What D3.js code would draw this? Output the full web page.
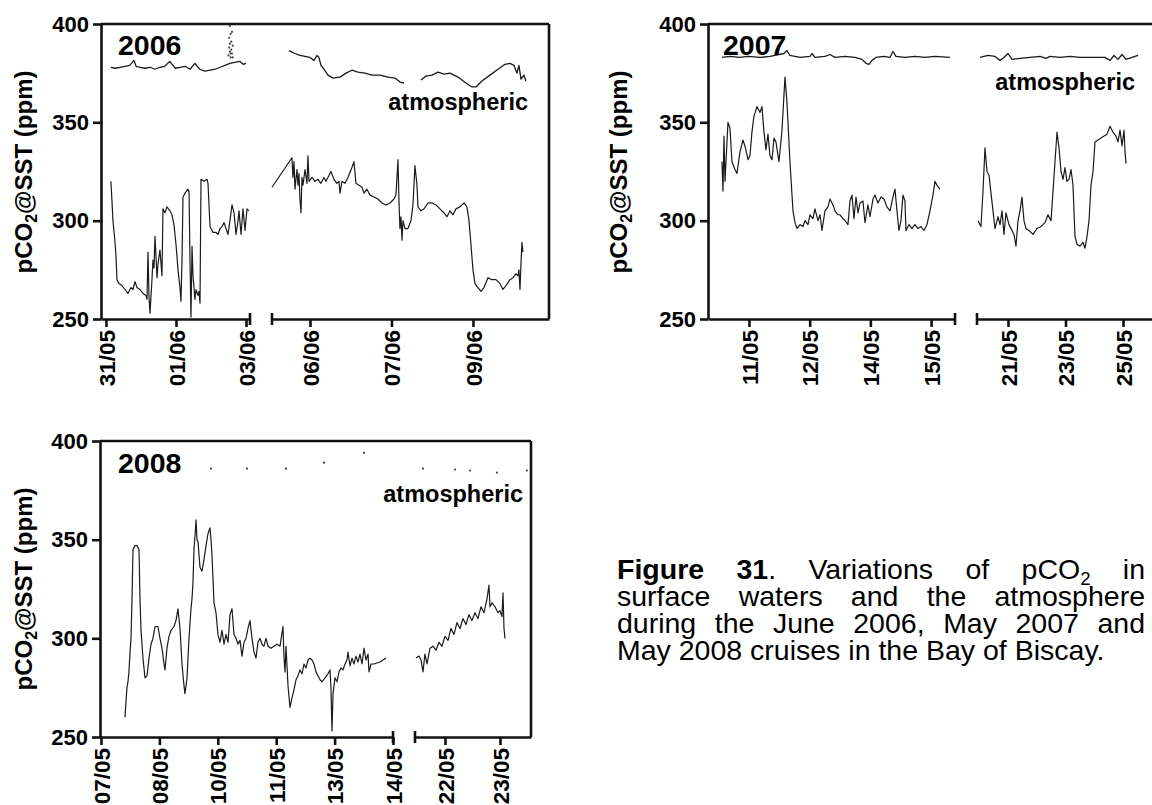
<!DOCTYPE html>
<html>
<head>
<meta charset="utf-8">
<script src="https://cdn.jsdelivr.net/npm/d3@7"></script>
<style>
  body { margin: 0; background: #fff; }
  svg { display: block; font-family: "Liberation Sans", Arial, Helvetica, sans-serif; }
</style>
</head>
<body>
<svg id="chart" width="1152" height="805"></svg>
<script>
// ---------- pCO2 axis ----------
const yTicks = [250, 300, 350, 400];

// ---------- June 2006 cruise ----------
// time axis is broken in two legs; x values are in tick intervals of each leg
const ticks2006a = [0, 1, 2];
const labels2006a = ["31/05", "01/06", "03/06"];
const ticks2006b = [0, 1, 2];
const labels2006b = ["06/06", "07/06", "09/06"];

const sea2006a = [[0.071,320],[0.10,300],[0.129,289],[0.143,282],[0.157,270],[0.186,268],[0.229,267],[0.271,265],[0.314,263],[0.357,266],[0.386,265],[0.414,269],[0.443,266],[0.486,265],[0.529,263],[0.571,262],[0.586,260],[0.60,284],[0.614,262],[0.629,253],[0.657,270],[0.671,280],[0.686,276],[0.70,292],[0.714,282],[0.729,271],[0.743,278],[0.771,285],[0.80,272],[0.814,306],[0.843,304],[0.871,307],[0.914,305],[0.943,303],[0.971,298],[1.0,288],[1.029,275],[1.057,266],[1.071,259],[1.086,280],[1.10,312],[1.129,314],[1.171,316],[1.186,315],[1.20,280],[1.214,251],[1.229,287],[1.243,272],[1.271,260],[1.286,265],[1.314,262],[1.329,264],[1.343,258],[1.357,321],[1.40,320],[1.443,321],[1.457,319],[1.486,297],[1.529,294],[1.571,294],[1.60,293],[1.629,296],[1.657,297],[1.686,299],[1.714,296],[1.743,293],[1.771,300],[1.80,308],[1.829,304],[1.857,293],[1.886,300],[1.90,305],[1.929,293],[1.957,306],[1.986,295],[2.014,306],[2.043,305]];
const air2006a = [[0.07,378],[0.13,377.5],[0.2,378],[0.27,378.5],[0.34,379],[0.4,381.5],[0.43,378.5],[0.49,378],[0.56,377.5],[0.63,378],[0.7,377],[0.77,378],[0.84,378.5],[0.91,381],[0.99,377.5],[1.06,378],[1.13,378.5],[1.2,377],[1.27,380],[1.34,377],[1.41,376],[1.49,376.5],[1.56,377],[1.63,378],[1.7,379],[1.77,380],[1.84,380.5],[1.91,381],[1.96,379.5],[2.0,380]];
const airDots2006a = [[1.75,384],[1.76,388],[1.76,393],[1.77,386],[1.77,399],[1.78,383],[1.78,395],[1.79,387],[1.79,391],[1.80,385],[1.80,396],[1.81,389],[1.81,383],[1.77,390],[1.78,385]];

const sea2006b = [[-0.466,317],[-0.221,332],[-0.209,322],[-0.196,330],[-0.184,316],[-0.160,326],[-0.147,318],[-0.135,324],[-0.123,311],[-0.110,304],[-0.098,322],[-0.086,318],[-0.061,326],[-0.037,319],[-0.025,333],[-0.012,320],[0.025,322],[0.061,320],[0.098,321],[0.135,319],[0.172,322],[0.196,320],[0.233,323],[0.258,325],[0.294,321],[0.331,319],[0.356,320],[0.368,314],[0.393,320],[0.429,319],[0.466,322],[0.515,327],[0.540,330],[0.564,319],[0.601,318],[0.638,317],[0.663,314],[0.699,316],[0.736,313],[0.785,312],[0.834,311],[0.883,309],[0.933,308],[0.982,309],[1.031,311],[1.055,313],[1.080,331],[1.092,310],[1.104,296],[1.117,302],[1.129,290],[1.141,300],[1.166,296],[1.202,296],[1.239,300],[1.264,308],[1.288,328],[1.313,318],[1.325,307],[1.362,305],[1.399,306],[1.448,309],[1.497,309],[1.546,308],[1.595,306],[1.644,304],[1.681,302],[1.718,305],[1.755,303],[1.791,306],[1.840,307],[1.890,309],[1.926,307],[1.951,300],[1.975,288],[2.0,275],[2.025,268],[2.061,266],[2.098,264],[2.135,266],[2.184,271],[2.233,270],[2.282,270],[2.331,268],[2.368,265],[2.405,267],[2.454,270],[2.491,271],[2.528,273],[2.552,272],[2.564,275],[2.577,265],[2.589,278],[2.601,289],[2.613,284]];
const air2006b = [[-0.258,386.5],[-0.184,385],[-0.123,384],[-0.061,383.5],[0,383],[0.049,381.5],[0.086,384],[0.11,383],[0.135,379],[0.172,377],[0.221,374],[0.282,372.5],[0.368,373],[0.442,375],[0.515,376.5],[0.589,375.5],[0.675,375],[0.761,374],[0.859,374],[0.957,373],[1.043,372.5],[1.104,370.5],[1.153,370],[1.25,null],[1.362,371.5],[1.423,373.5],[1.497,374],[1.571,375.5],[1.644,374.5],[1.718,375],[1.816,373],[1.914,370],[1.988,368],[2.037,368],[2.110,371],[2.209,374],[2.307,377],[2.393,379.5],[2.454,380],[2.503,379],[2.540,375],[2.564,379],[2.589,372],[2.626,374],[2.650,371]];

// ---------- May 2007 cruise ----------
const ticks2007a = [0, 1, 2, 3];
const labels2007a = ["11/05", "12/05", "14/05", "15/05"];
const ticks2007b = [0, 1, 2];
const labels2007b = ["21/05", "23/05", "25/05"];

const sea2007a = [[-0.445,330],[-0.428,315],[-0.412,343],[-0.395,320],[-0.362,340],[-0.346,350],[-0.313,347],[-0.280,330],[-0.231,326],[-0.198,324],[-0.148,335],[-0.099,341],[-0.066,338],[-0.016,331],[0.016,333],[0.049,345],[0.082,353],[0.132,358],[0.181,355],[0.214,358],[0.247,345],[0.280,336],[0.313,344],[0.346,333],[0.379,331],[0.412,342],[0.445,340],[0.478,333],[0.494,330],[0.544,346],[0.593,373],[0.626,360],[0.675,330],[0.725,305],[0.758,299],[0.791,296],[0.840,298],[0.890,297],[0.923,300],[0.972,298],[1.005,303],[1.054,301],[1.087,306],[1.137,300],[1.170,303],[1.203,295],[1.252,305],[1.301,307],[1.334,311],[1.384,308],[1.417,305],[1.466,303],[1.499,303],[1.549,301],[1.582,300],[1.631,298],[1.664,310],[1.697,313],[1.730,301],[1.763,312],[1.796,304],[1.829,309],[1.878,310],[1.911,299],[1.960,308],[1.993,302],[2.043,311],[2.076,313],[2.125,309],[2.175,312],[2.224,311],[2.273,307],[2.323,305],[2.372,312],[2.405,316],[2.438,305],[2.471,295],[2.504,300],[2.537,313],[2.570,310],[2.586,295],[2.636,298],[2.685,296],[2.735,298],[2.784,296],[2.834,297],[2.883,295],[2.932,298],[2.982,305],[3.031,313],[3.064,320],[3.097,318],[3.146,316]];
const air2007a = [[-0.445,383],[-0.313,383.5],[-0.148,383],[-0.016,383.5],[0.181,383],[0.346,383.5],[0.577,385],[0.626,386.5],[0.675,384],[0.840,383],[1.005,383.5],[1.038,385],[1.087,383],[1.252,383.5],[1.334,384.5],[1.417,383],[1.582,383.5],[1.746,383],[1.862,382],[1.928,380],[1.977,379.5],[2.026,381.5],[2.092,383],[2.224,383.5],[2.323,383],[2.372,386],[2.422,383.5],[2.570,383],[2.735,383.5],[2.900,383],[3.065,383.5],[3.311,383]];

const sea2007b = [[-0.522,300],[-0.470,297],[-0.435,315],[-0.400,337],[-0.365,325],[-0.330,323],[-0.296,314],[-0.261,305],[-0.226,296],[-0.174,302],[-0.139,298],[-0.104,305],[-0.070,293],[-0.035,304],[0.017,298],[0.070,295],[0.104,293],[0.139,287],[0.174,300],[0.209,305],[0.243,312],[0.278,300],[0.313,296],[0.365,295],[0.435,293],[0.504,296],[0.574,297],[0.643,299],[0.696,303],[0.748,300],[0.783,315],[0.817,330],[0.852,345],[0.887,337],[0.922,325],[0.957,321],[0.991,327],[1.026,320],[1.061,321],[1.096,326],[1.130,318],[1.165,292],[1.200,288],[1.252,287],[1.304,289],[1.339,286],[1.374,292],[1.409,300],[1.443,318],[1.478,325],[1.513,340],[1.565,341],[1.617,342],[1.670,343],[1.722,344],[1.774,348],[1.826,345],[1.878,343],[1.913,340],[1.948,346],[1.983,338],[2.017,346],[2.035,335],[2.052,329]];
const air2007b = [[-0.487,383],[-0.348,384],[-0.226,383.5],[-0.139,381.5],[-0.070,383],[0,385],[0.070,382],[0.209,382.5],[0.383,383],[0.557,383.5],[0.661,382.5],[0.730,383.5],[0.904,383],[1.078,383.5],[1.252,383],[1.426,383],[1.687,383],[1.774,381.5],[1.843,384],[1.913,382],[1.983,384.5],[2.052,382],[2.157,383],[2.261,384]];

// ---------- May 2008 cruise ----------
const ticks2008a = [0, 1, 2, 3, 4, 5];
const labels2008a = ["07/05", "08/05", "10/05", "11/05", "13/05", "14/05"];
const ticks2008b = [0, 1];
const labels2008b = ["22/05", "23/05"];

const sea2008a = [[0.411,260],[0.428,268],[0.445,275],[0.462,278],[0.479,283],[0.497,293],[0.514,300],[0.531,320],[0.548,345],[0.582,347],[0.616,347],[0.651,345],[0.668,320],[0.685,304],[0.719,290],[0.753,280],[0.788,281],[0.822,290],[0.856,297],[0.890,300],[0.925,306],[0.976,306],[1.010,300],[1.045,295],[1.079,287],[1.096,284],[1.130,295],[1.164,301],[1.199,304],[1.250,306],[1.284,309],[1.318,315],[1.353,305],[1.387,287],[1.421,276],[1.438,272],[1.473,280],[1.507,300],[1.541,315],[1.558,320],[1.575,328],[1.592,345],[1.610,352],[1.627,360],[1.644,350],[1.661,349],[1.695,336],[1.729,334],[1.764,340],[1.798,347],[1.832,353],[1.866,356],[1.884,350],[1.901,342],[1.918,330],[1.935,318],[1.969,313],[2.003,302],[2.038,298],[2.072,304],[2.106,297],[2.140,302],[2.175,298],[2.209,312],[2.243,315],[2.277,302],[2.312,300],[2.346,297],[2.380,299],[2.414,291],[2.449,298],[2.483,300],[2.517,305],[2.551,309],[2.586,300],[2.620,293],[2.654,290],[2.688,298],[2.723,300],[2.757,297],[2.791,296],[2.825,300],[2.860,296],[2.911,295],[2.962,296],[3.014,297],[3.065,296],[3.116,306],[3.134,290],[3.151,283],[3.168,296],[3.202,276],[3.236,265],[3.271,270],[3.305,274],[3.339,279],[3.373,281],[3.408,284],[3.442,282],[3.476,287],[3.510,285],[3.545,289],[3.579,290],[3.613,289],[3.647,287],[3.682,283],[3.716,281],[3.750,279],[3.784,278],[3.836,280],[3.887,282],[3.921,284],[3.938,275],[3.955,253],[3.973,272],[4.007,280],[4.041,278],[4.075,283],[4.110,285],[4.144,284],[4.178,287],[4.212,289],[4.229,293],[4.264,286],[4.298,290],[4.332,287],[4.366,291],[4.401,288],[4.435,292],[4.469,287],[4.503,295],[4.538,289],[4.572,292],[4.589,283],[4.623,287],[4.675,287],[4.777,288],[4.880,290]];
const airDots2008a = [[1.884,386],[2.5,386],[3.168,386],[3.818,389],[4.503,394]];

const sea2008b = [[-0.527,290],[-0.473,291],[-0.436,289],[-0.400,283],[-0.364,292],[-0.327,287],[-0.273,295],[-0.218,296],[-0.164,294],[-0.109,298],[-0.055,296],[0,301],[0.055,299],[0.109,305],[0.164,302],[0.218,308],[0.273,305],[0.327,310],[0.382,307],[0.436,312],[0.491,309],[0.545,313],[0.600,310],[0.655,316],[0.709,313],[0.764,320],[0.800,327],[0.818,316],[0.855,318],[0.909,316],[0.964,313],[1.0,314],[1.036,311],[1.055,323],[1.073,305],[1.091,300]];
const airDots2008b = [[-0.4,386],[0.182,385.5],[0.455,385],[0.945,384],[1.49,385]];

// ---------- layout of the three panels ----------
const panels = [
  { year: "2006", top: 24, bottom: 319, left: 101, right: 549, frameRight: true,
    yearAt: [118, 55], atmAt: [528, 110], titleAt: [32, 172],
    legs: [
      { range: [101, 250], domain: [-0.071, 2.057], ticks: ticks2006a, labels: labels2006a,
        sea: sea2006a, air: air2006a, dots: airDots2006a, cap: "end" },
      { range: [272, 549], domain: [-0.466, 2.933], ticks: ticks2006b, labels: labels2006b,
        sea: sea2006b, air: air2006b, dots: [], cap: "start" }
    ] },
  { year: "2007", top: 24, bottom: 319, left: 708, right: 1165, frameRight: false,
    yearAt: [723, 55], atmAt: [1135, 90], titleAt: [627, 172],
    legs: [
      { range: [708, 955], domain: [-0.675, 3.394], ticks: ticks2007a, labels: labels2007a,
        sea: sea2007a, air: air2007a, dots: [], cap: "end" },
      { range: [977, 1165], domain: [-0.539, 2.73], ticks: ticks2007b, labels: labels2007b,
        sea: sea2007b, air: air2007b, dots: [], cap: "start" }
    ] },
  { year: "2008", top: 441, bottom: 737, left: 100, right: 531, frameRight: true,
    yearAt: [118, 473], atmAt: [523, 502], titleAt: [32, 589],
    legs: [
      { range: [100, 393], domain: [-0.017, 5.0], ticks: ticks2008a, labels: labels2008a,
        sea: sea2008a, air: [], dots: airDots2008a, cap: "end" },
      { range: [415, 531], domain: [-0.545, 1.564], ticks: ticks2008b, labels: labels2008b,
        sea: sea2008b, air: [], dots: airDots2008b, cap: "start" }
    ] }
];

const svg = d3.select("#chart");
const AXIS_W = 2.6;
const INK = "#111";

panels.forEach(p => {
  const g = svg.append("g");
  const y = d3.scaleLinear().domain([250, 400]).range([p.bottom, p.top]);

  // frame: top edge and optional right edge
  g.append("line").attr("x1", p.left).attr("x2", p.right)
    .attr("y1", y(400)).attr("y2", y(400))
    .attr("stroke", INK).attr("stroke-width", AXIS_W);
  if (p.frameRight) {
    g.append("line").attr("x1", p.right).attr("x2", p.right)
      .attr("y1", y(400)).attr("y2", y(250))
      .attr("stroke", INK).attr("stroke-width", AXIS_W);
  }

  p.legs.forEach(leg => {
    const x = d3.scaleLinear().domain(leg.domain).range(leg.range);
    const line = d3.line()
      .defined(d => d[1] != null)
      .x(d => x(d[0])).y(d => y(d[1]));

    // water pCO2
    g.append("path").datum(leg.sea)
      .attr("d", line).attr("fill", "none")
      .attr("stroke", "#1a1a1a").attr("stroke-width", 1.2)
      .attr("stroke-linejoin", "round");
    // atmospheric pCO2
    if (leg.air.length) {
      g.append("path").datum(leg.air)
        .attr("d", line).attr("fill", "none")
        .attr("stroke", "#1a1a1a").attr("stroke-width", 1.3)
        .attr("stroke-linejoin", "round");
    }
    g.selectAll(null).data(leg.dots).join("circle")
      .attr("cx", d => x(d[0])).attr("cy", d => y(d[1]))
      .attr("r", 1.1).attr("fill", "#444");

    // time axis for this leg
    const ax = g.append("g")
      .attr("transform", `translate(0,${p.bottom})`)
      .call(d3.axisBottom(x).tickValues(leg.ticks)
        .tickFormat((d, i) => leg.labels[i]).tickSize(8).tickSizeOuter(0));
    ax.select(".domain").attr("stroke", INK).attr("stroke-width", AXIS_W);
    ax.selectAll(".tick line").attr("stroke", INK).attr("stroke-width", AXIS_W);
    ax.selectAll(".tick text")
      .attr("fill", "#000")
      .attr("font-size", 22.5).attr("font-weight", "bold")
      .attr("font-family", "Liberation Sans, Arial, sans-serif")
      .attr("text-anchor", "end")
      .attr("x", 0).attr("y", 0).attr("dy", "0.36em")
      .attr("transform", "translate(0,11) rotate(-90)");

    // break marks at the interrupted ends
    const cx = leg.cap === "end" ? leg.range[1] : leg.range[0];
    g.append("line").attr("x1", cx).attr("x2", cx)
      .attr("y1", p.bottom - 6).attr("y2", p.bottom + 6)
      .attr("stroke", INK).attr("stroke-width", AXIS_W);
  });

  // pCO2 axis
  const ay = g.append("g")
    .attr("transform", `translate(${p.left},0)`)
    .call(d3.axisLeft(y).tickValues(yTicks).tickSize(8).tickPadding(4).tickSizeOuter(0));
  ay.select(".domain").attr("stroke", INK).attr("stroke-width", AXIS_W);
  ay.selectAll(".tick line").attr("stroke", INK).attr("stroke-width", AXIS_W);
  ay.selectAll(".tick text")
    .attr("fill", "#000").attr("font-size", 22).attr("font-weight", "bold")
    .attr("font-family", "Liberation Sans, Arial, sans-serif");

  // axis title with subscript
  const t = g.append("text")
    .attr("transform", `translate(${p.titleAt[0]},${p.titleAt[1]}) rotate(-90)`)
    .attr("text-anchor", "middle").attr("font-size", 24).attr("font-weight", "bold")
    .attr("fill", "#000");
  t.append("tspan").text("pCO");
  t.append("tspan").attr("font-size", 16).attr("dy", 5).text("2");
  t.append("tspan").attr("dy", -5).text("@SST (ppm)");

  // year and series annotation
  g.append("text").attr("x", p.yearAt[0]).attr("y", p.yearAt[1])
    .attr("font-size", 28.5).attr("font-weight", "bold").attr("fill", "#000")
    .text(p.year);
  g.append("text").attr("x", p.atmAt[0]).attr("y", p.atmAt[1])
    .attr("text-anchor", "end")
    .attr("font-size", 23.5).attr("font-weight", "bold").attr("fill", "#000")
    .text("atmospheric");
});

// ---------- caption (justified block) ----------
const captionWords = [
  [[["Figure","b"]], [["31","b"],[".",""]], [["Variations",""]], [["of",""]], [["pCO",""],["2","s"]], [["in",""]]],
  [[["surface",""]], [["waters",""]], [["and",""]], [["the",""]], [["atmosphere",""]]],
  [[["during",""]], [["the",""]], [["June",""]], [["2006,",""]], [["May",""]], [["2007",""]], [["and",""]]],
  [[["May",""]], [["2008",""]], [["cruises",""]], [["in",""]], [["the",""]], [["Bay",""]], [["of",""]], [["Biscay.",""]]]
];
const capLeft = 617, capRight = 1145, capBase = 579, capStep = 27, capSize = 28.5;
const cap = svg.append("g").attr("font-size", capSize).attr("fill", "#000");

captionWords.forEach((words, li) => {
  const yb = capBase + li * capStep;
  const nodes = words.map(runs => {
    const txt = cap.append("text").attr("y", yb);
    runs.forEach(([s, st]) => {
      const ts = txt.append("tspan").text(s);
      if (st === "b") ts.attr("font-weight", "bold");
      if (st === "s") ts.attr("font-size", capSize * 0.65).attr("dy", 6);
    });
    return txt;
  });
  const widths = nodes.map(n => n.node().getComputedTextLength());
  const total = d3.sum(widths);
  const last = li === captionWords.length - 1;
  const gap = last ? capSize * 0.278 : (capRight - capLeft - total) / (nodes.length - 1);
  let xPos = capLeft;
  nodes.forEach((n, i) => { n.attr("x", xPos); xPos += widths[i] + gap; });
});
</script>
</body>
</html>
